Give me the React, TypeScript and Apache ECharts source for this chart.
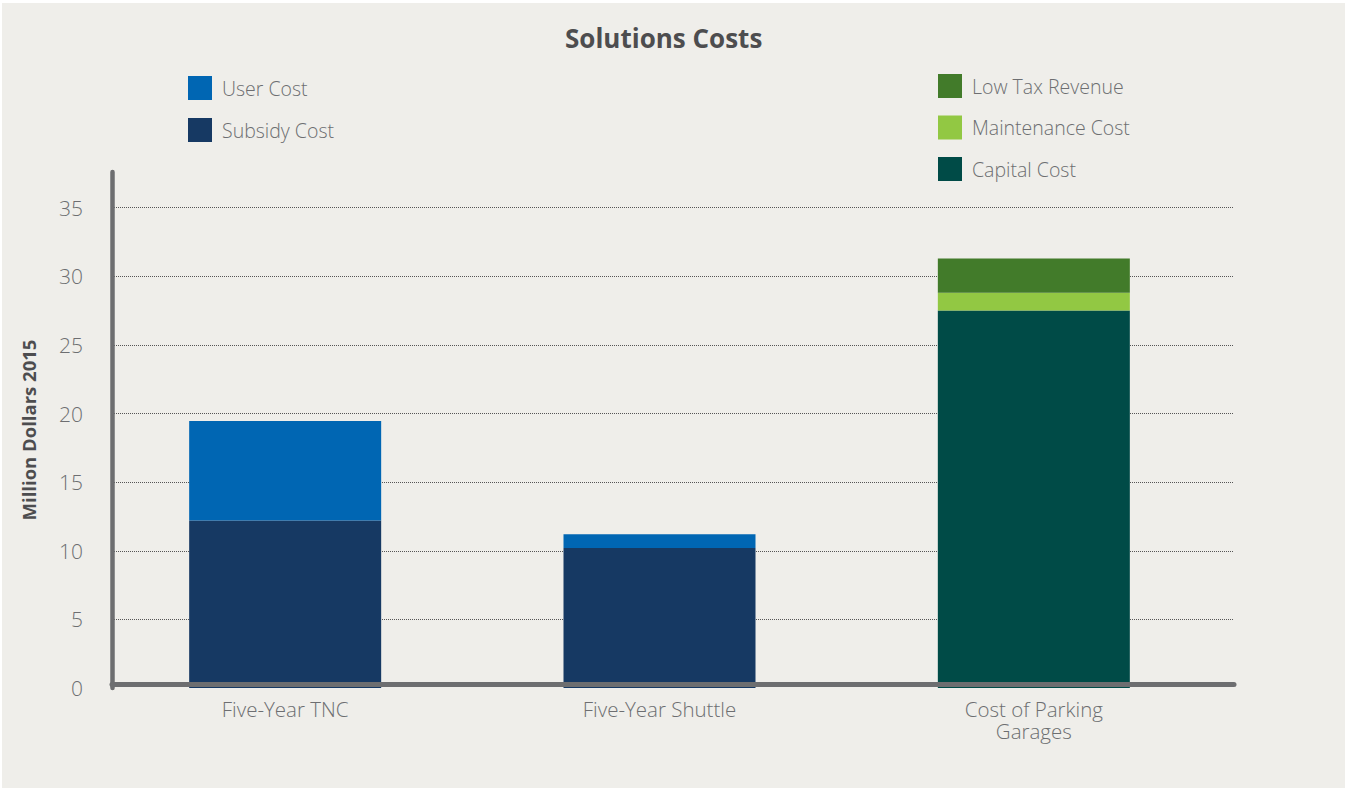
import React, { useEffect, useRef } from "react";
import * as echarts from "echarts";

const categories = ["Five-Year TNC", "Five-Year Shuttle", "Cost of Parking\nGarages"];
const subsidyCost = [12.2, 10.2, "-"];
const userCost = [7.25, 1.0, "-"];
const capitalCost = ["-", "-", 27.5];
const maintenanceCost = ["-", "-", 1.3];
const lowTaxRevenue = ["-", "-", 2.5];
const yMax = 37.6;
const yInterval = 5;

const FONT = "Open Sans";
const GRAY = "#6d6e71";
const AXIS = "#6d6e70";

export default function App() {
  const ref = useRef<HTMLDivElement>(null);
  useEffect(() => {
    const chart = echarts.init(ref.current!, undefined, { renderer: "svg" });
    const barBase = {
      type: "bar",
      stack: "total",
      xAxisIndex: 1,
      yAxisIndex: 1,
      barWidth: 192,
    };
    const legendText = {
      fontFamily: FONT,
      fontSize: 19.5,
      fontWeight: 300,
      color: GRAY,
      padding: [0, 0, 0, 5],
    };
    chart.setOption({
      animation: false,
      backgroundColor: "#efeeea",
      textStyle: { fontFamily: FONT },
      title: {
        text: "Solutions Costs",
        left: 560,
        top: 20,
        textStyle: { fontFamily: FONT, fontSize: 26, fontWeight: "bold", color: "#4d4d4f" },
      },
      graphic: [
        { type: "rect", shape: { x: 0, y: 0, width: 1345, height: 3 }, style: { fill: "#ffffff" }, silent: true },
        { type: "rect", shape: { x: 0, y: 0, width: 2, height: 788 }, style: { fill: "#ffffff" }, silent: true },
      ],
      legend: [
        {
          data: ["User Cost", "Subsidy Cost"],
          orient: "vertical",
          left: 183,
          top: 71,
          itemWidth: 24,
          itemHeight: 24,
          itemGap: 18,
          icon: "rect",
          selectedMode: false,
          textStyle: legendText,
        },
        {
          data: ["Low Tax Revenue", "Maintenance Cost", "Capital Cost"],
          orient: "vertical",
          left: 933,
          top: 69,
          itemWidth: 24,
          itemHeight: 24,
          itemGap: 17.5,
          icon: "rect",
          selectedMode: false,
          textStyle: legendText,
        },
      ],
      grid: [
        { left: 112, top: 172, width: 1122, height: 516 },
        { left: 98, top: 172, width: 1123, height: 516 },
      ],
      xAxis: [
        {
          type: "category",
          gridIndex: 0,
          data: categories,
          offset: -3.5,
          z: 10,
          axisLine: { show: true, onZero: false, lineStyle: { color: AXIS, width: 5 } },
          axisTick: { show: false },
          axisLabel: { show: false },
          splitLine: { show: false },
        },
        {
          type: "category",
          gridIndex: 1,
          data: categories,
          axisLine: { show: false },
          axisTick: { show: false },
          axisLabel: {
            margin: 10,
            fontFamily: FONT,
            fontSize: 20.5,
            fontWeight: 300,
            color: GRAY,
            lineHeight: 22,
          },
        },
      ],
      yAxis: [
        {
          type: "value",
          gridIndex: 0,
          min: 0,
          max: yMax,
          interval: yInterval,
          name: "Million Dollars 2015",
          nameLocation: "middle",
          nameGap: 74,
          nameTextStyle: { fontFamily: FONT, fontSize: 18.5, fontWeight: "bold", color: "#4d4d4f" },
          axisLine: { show: true, lineStyle: { color: AXIS, width: 4.5 } },
          axisTick: { show: false },
          axisLabel: {
            showMaxLabel: false,
            margin: 29,
            fontFamily: FONT,
            fontSize: 21,
            fontWeight: 300,
            color: GRAY,
          },
          splitLine: {
            show: true,
            showMinLine: false,
            showMaxLine: false,
            lineStyle: { color: "#555555", width: 1, type: [1, 1] },
          },
        },
        {
          type: "value",
          gridIndex: 1,
          min: 0,
          max: yMax,
          interval: yInterval,
          show: false,
          splitLine: { show: false },
        },
      ],
      series: [
        { ...barBase, name: "Subsidy Cost", data: subsidyCost, itemStyle: { color: "#163963" } },
        { ...barBase, name: "User Cost", data: userCost, itemStyle: { color: "#0066b3" } },
        { ...barBase, name: "Capital Cost", data: capitalCost, itemStyle: { color: "#004b47" } },
        { ...barBase, name: "Maintenance Cost", data: maintenanceCost, itemStyle: { color: "#92c843" } },
        { ...barBase, name: "Low Tax Revenue", data: lowTaxRevenue, itemStyle: { color: "#427b2a" } },
      ],
    });
    return () => chart.dispose();
  }, []);
  return (
    <div
      ref={ref}
      style={{ position: "fixed", left: 0, top: 0, width: 1345, height: 788 }}
    />
  );
}
